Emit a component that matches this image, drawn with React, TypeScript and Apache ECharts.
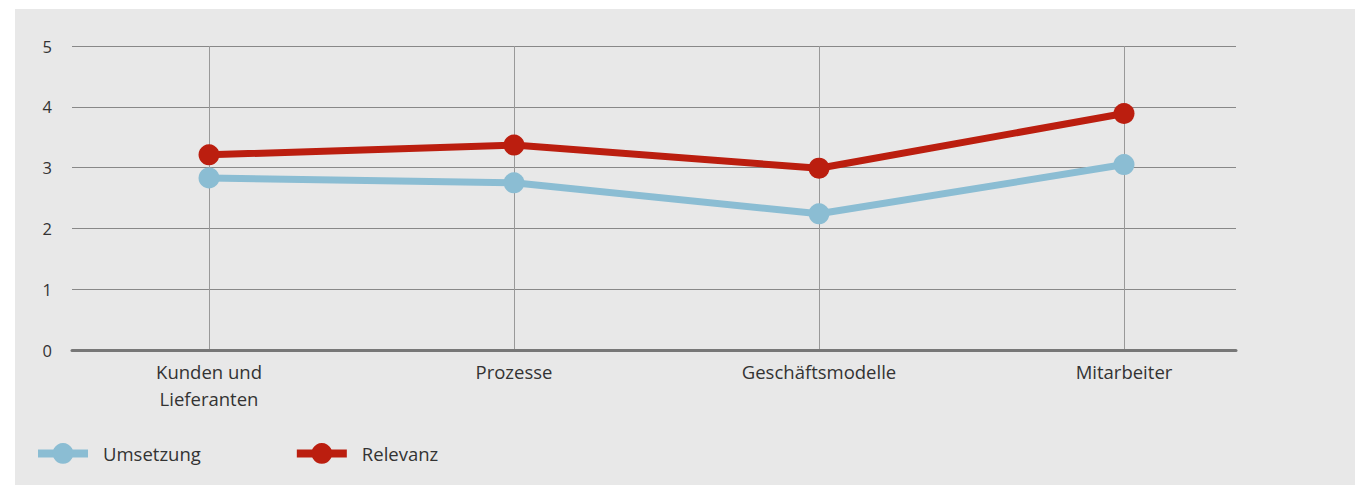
import React, { useEffect, useRef } from "react";
import * as echarts from "echarts";

const categories = ["Kunden und\nLieferanten", "Prozesse", "Geschäftsmodelle", "Mitarbeiter"];
const umsetzung = [2.83, 2.75, 2.24, 3.05];
const relevanz = [3.21, 3.37, 2.99, 3.89];
const yMin = 0;
const yMax = 5;

const BLUE = "#8bbdd3";
const RED = "#bb1e0f";
const FONT = "Open Sans";

export default function App() {
  const ref = useRef<HTMLDivElement>(null);
  useEffect(() => {
    if (!ref.current) return;
    const chart = echarts.init(ref.current, undefined, { renderer: "svg" });
    chart.setOption({
      animation: false,
      backgroundColor: "#ffffff",
      textStyle: { fontFamily: FONT },
      graphic: [
        { type: "rect", z: -10, shape: { x: 7, y: 1, width: 1348, height: 476 }, style: { fill: "#e8e8e8" }, silent: true },
      ],
      grid: [
        { left: 64, right: 127, top: 38, bottom: 135 },
        { left: 201, right: 239, top: 38, bottom: 135 },
      ],
      xAxis: [
        {
          gridIndex: 0,
          type: "category",
          data: categories,
          axisLine: { show: true, lineStyle: { color: "#777777", width: 3 } },
          axisTick: { show: false },
          axisLabel: { show: false },
          splitLine: { show: false },
        },
        {
          gridIndex: 1,
          type: "category",
          data: categories,
          boundaryGap: false,
          axisLine: { show: false },
          axisTick: { show: false },
          axisLabel: { color: "#333333", fontSize: 18.5, fontFamily: FONT, lineHeight: 27, margin: 8 },
          splitLine: { show: true, lineStyle: { color: "#999999", width: 1 } },
        },
      ],
      yAxis: [
        {
          gridIndex: 0,
          type: "value",
          min: yMin,
          max: yMax,
          interval: 1,
          axisLine: { show: false },
          axisTick: { show: false },
          axisLabel: { color: "#333333", fontSize: 16.5, fontFamily: FONT, margin: 20 },
          splitLine: { show: true, lineStyle: { color: "#888888", width: 1 } },
        },
        {
          gridIndex: 1,
          type: "value",
          min: yMin,
          max: yMax,
          interval: 1,
          show: false,
          splitLine: { show: false },
        },
      ],
      legend: {
        left: 26,
        top: 435,
        padding: 0,
        itemWidth: 50,
        itemHeight: 26,
        itemGap: 92,
        lineStyle: { width: 8 },
        textStyle: { color: "#333333", fontSize: 18.5, fontFamily: FONT, padding: [0, 0, 0, 10] },
        data: ["Umsetzung", "Relevanz"],
      },
      series: [
        {
          name: "Umsetzung",
          type: "line",
          xAxisIndex: 1,
          yAxisIndex: 1,
          data: umsetzung,
          symbol: "circle",
          symbolSize: 21,
          lineStyle: { color: BLUE, width: 7 },
          itemStyle: { color: BLUE },
        },
        {
          name: "Relevanz",
          type: "line",
          xAxisIndex: 1,
          yAxisIndex: 1,
          data: relevanz,
          symbol: "circle",
          symbolSize: 21,
          lineStyle: { color: RED, width: 7 },
          itemStyle: { color: RED },
        },
      ],
    });
    return () => chart.dispose();
  }, []);
  return <div ref={ref} style={{ width: 1355, height: 477 }} />;
}
